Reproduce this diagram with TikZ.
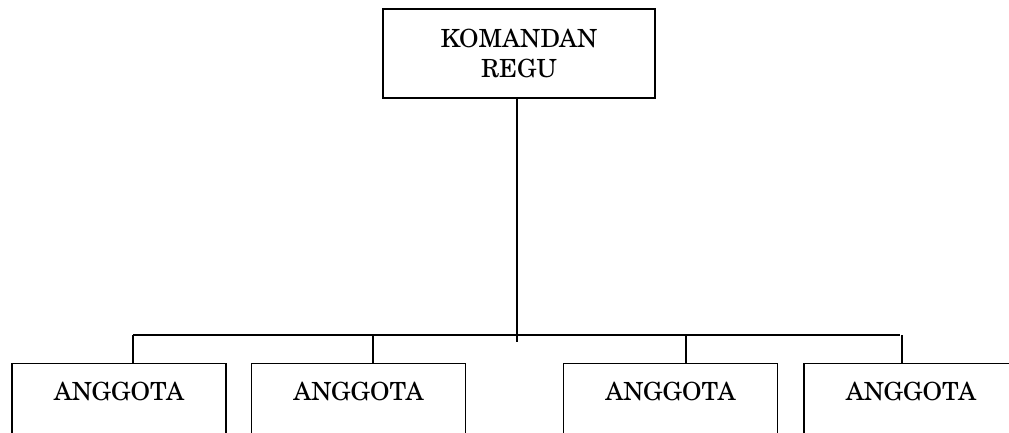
\documentclass[tikz,border=0pt]{standalone}
\usepackage{fontspec}
\setmainfont{TeX Gyre Schola}
\usepackage{tikz}

\begin{document}
\begin{tikzpicture}[x=1pt,y=-1pt,line width=1.2pt,
		kotak/.style={draw,rectangle,inner xsep=0pt,font=\fontsize{25}{30}\selectfont},
		anggota/.style={kotak,minimum width=214pt,text height=18pt,text depth=120pt,inner ysep=19pt,anchor=north}]
			\useasboundingbox (0,0) rectangle (1009,432);
			\clip (0,0) rectangle (1009,432);
			\coordinate (stem) at (517,342);
			\coordinate (bar_l) at (133,335);
			\coordinate (bar_r) at (900,335);
			\coordinate (d_1) at (133,335);
			\coordinate (d_2) at (373,335);
			\coordinate (d_3) at (686,335);
			\coordinate (d_4) at (902,335);
			\node[kotak,align=center,minimum width=272pt,minimum height=89pt,inner ysep=0pt] (danru) at (519,53.5) {KOMANDAN\\REGU};
			\node[anggota] (a_1) at (119,363) {ANGGOTA};
			\node[anggota] (a_2) at (358.5,363) {ANGGOTA};
			\node[anggota] (a_3) at (670.5,363) {ANGGOTA};
			\node[anggota] (a_4) at (911,363) {ANGGOTA};
			\draw[line width=1.8pt] (danru.south -| stem) -- (stem);
			\draw (bar_l) -- (bar_r);
			\draw (d_1) -- (d_1 |- a_1.north);
			\draw (d_2) -- (d_2 |- a_2.north);
			\draw (d_3) -- (d_3 |- a_3.north);
			\draw (d_4) -- (d_4 |- a_4.north);
		\end{tikzpicture}
\end{document}
